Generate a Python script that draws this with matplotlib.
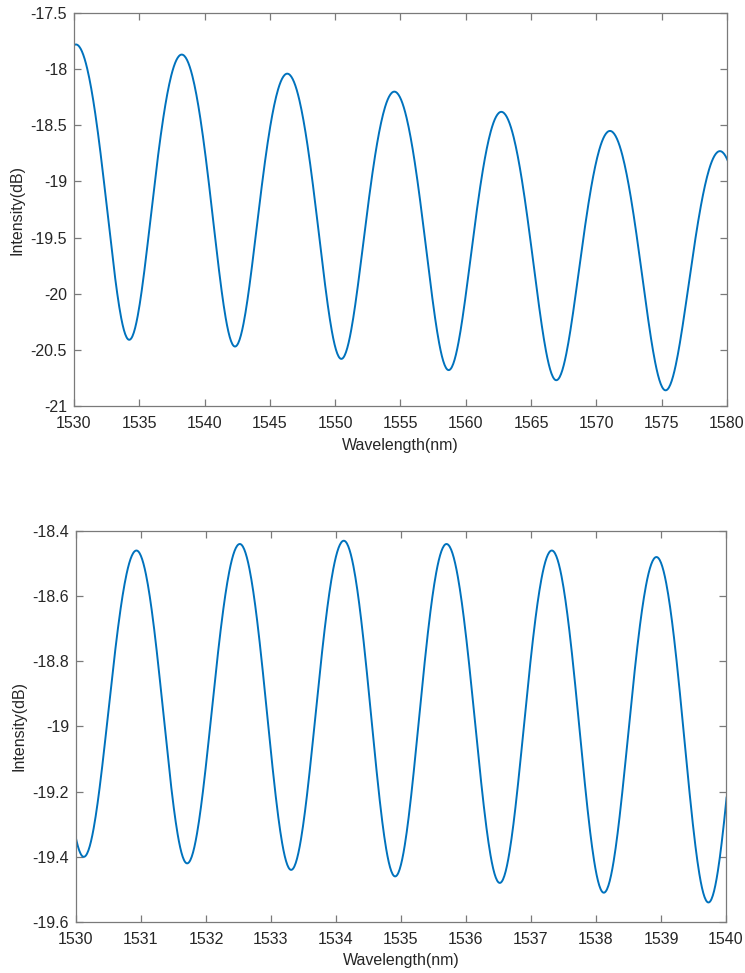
import numpy as np
import matplotlib
matplotlib.use("Agg")
import matplotlib.pyplot as plt
from matplotlib.ticker import FuncFormatter

plt.rcParams['font.family'] = ['Liberation Sans', 'DejaVu Sans']
plt.rcParams['axes.unicode_minus'] = False

# fringe extrema (wavelength nm, intensity dB)
# first / last entries lie just outside the plotted window
top_wl = [1526.15, 1530.15, 1534.23, 1538.25, 1542.33, 1546.33, 1550.47, 1554.53,
          1558.69, 1562.72, 1566.93, 1571.04, 1575.30, 1579.46, 1583.70]
top_db = [-20.35, -17.78, -20.41, -17.87, -20.47, -18.04, -20.58, -18.20,
          -20.68, -18.38, -20.77, -18.55, -20.86, -18.73, -20.95]

bot_wl = [1529.32, 1530.12, 1530.93, 1531.71, 1532.52, 1533.31, 1534.12, 1534.91,
          1535.70, 1536.52, 1537.32, 1538.12, 1538.93, 1539.73, 1540.50]
bot_db = [-18.47, -19.40, -18.46, -19.42, -18.44, -19.44, -18.43, -19.46,
          -18.44, -19.48, -18.46, -19.51, -18.48, -19.54, -18.52]

BLUE = '#0072BD'
AX_GREY = '#7a7a7a'
TXT = '#262626'


def fringe(wl, db, n=80):
    # join consecutive extrema with an interference-fringe shape (cosine in linear power)
    xs, ys = [], []
    for i in range(len(wl) - 1):
        t = np.linspace(0, 1, n, endpoint=False)
        w = 0.5 * (1 + np.cos(np.pi * t))
        la, lb = 10 ** (db[i] / 10), 10 ** (db[i + 1] / 10)
        xs.append(wl[i] + (wl[i + 1] - wl[i]) * t)
        ys.append(10 * np.log10(la * w + lb * (1 - w)))
    xs.append([wl[-1]])
    ys.append([db[-1]])
    return np.concatenate(xs), np.concatenate(ys)


def style(ax):
    for s in ax.spines.values():
        s.set_color(AX_GREY)
        s.set_linewidth(0.9)
    ax.tick_params(direction='in', length=5, width=0.9, color=AX_GREY,
                   labelcolor=TXT, labelsize=11.5, top=True, right=True)
    ax.tick_params(axis='x', pad=7.5)
    ax.tick_params(axis='y', pad=5)
    ax.yaxis.set_major_formatter(FuncFormatter(lambda v, p: f'{v:g}'))
    ax.xaxis.set_major_formatter(FuncFormatter(lambda v, p: f'{v:g}'))


fig = plt.figure(figsize=(7.45, 9.73), dpi=100)

ax1 = fig.add_axes([0.0993, 0.5827, 0.8765, 0.4039])
x, y = fringe(top_wl, top_db)
ax1.plot(x, y, color=BLUE, lw=1.4)
ax1.set_xlim(1530, 1580)
ax1.set_ylim(-21, -17.5)
ax1.set_xticks(np.arange(1530, 1581, 5))
ax1.set_yticks(np.arange(-21, -17.49, 0.5))
style(ax1)
ax1.set_xlabel('Wavelength(nm)', fontsize=11.5, color=TXT, labelpad=5)
ax1.set_ylabel('Intensity(dB)', fontsize=11.5, color=TXT, labelpad=4)

ax2 = fig.add_axes([0.102, 0.0524, 0.8725, 0.4019])
x, y = fringe(bot_wl, bot_db)
ax2.plot(x, y, color=BLUE, lw=1.4)
ax2.set_xlim(1530, 1540)
ax2.set_ylim(-19.6, -18.4)
ax2.set_xticks(np.arange(1530, 1541, 1))
ax2.set_yticks(np.round(np.arange(-19.6, -18.39, 0.2), 1))
style(ax2)
ax2.set_xlabel('Wavelength(nm)', fontsize=11.5, color=TXT, labelpad=4)
ax2.set_ylabel('Intensity(dB)', fontsize=11.5, color=TXT, labelpad=4)

fig.savefig('out.png', dpi=100)
